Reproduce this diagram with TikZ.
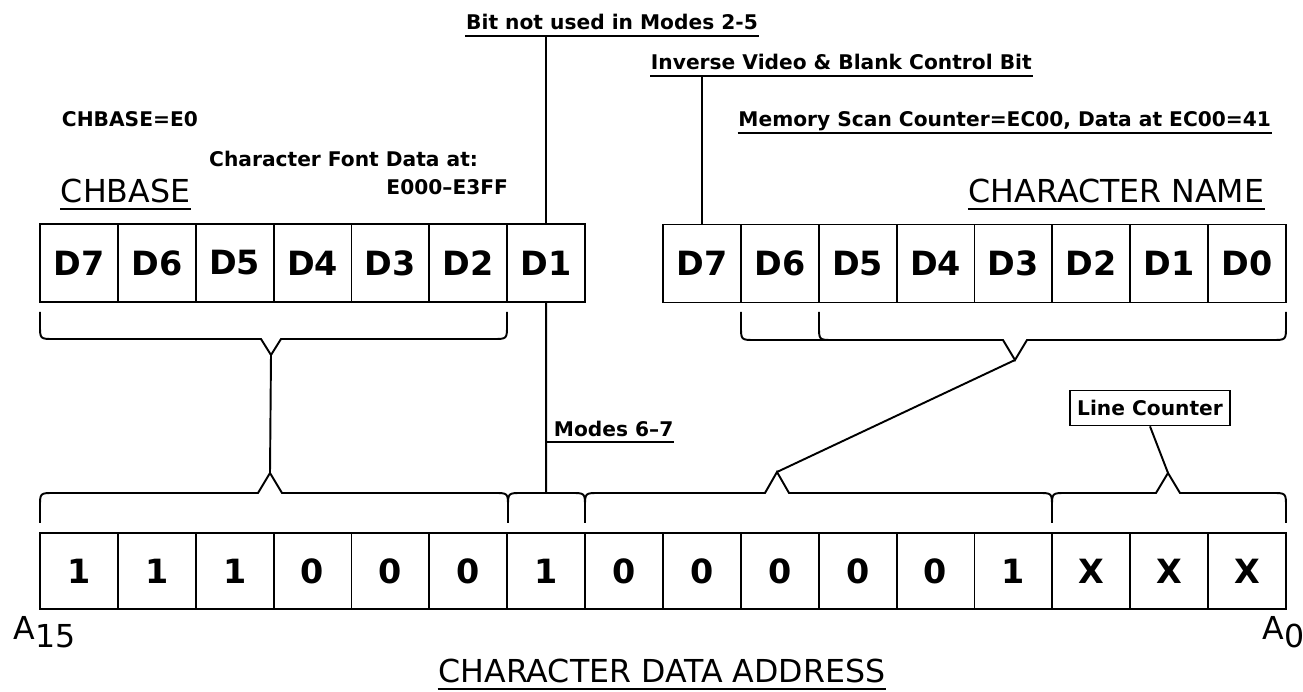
\documentclass[tikz,border=0pt]{standalone}
\usepackage{fontspec}
\setmainfont{DejaVu Sans}
\tikzset{
  cell/.style={draw, line width=1.1pt, minimum width=1.5575cm, minimum height=1.56cm,
    inner sep=0pt, font=\bfseries\fontsize{19}{19}\selectfont},
  note/.style={inner sep=0pt, font=\bfseries\fontsize{11.5}{12}\selectfont},
  heading/.style={inner sep=0pt, font=\fontsize{18}{18}\selectfont},
}
\begin{document}
\begin{tikzpicture}[x=0.02cm, y=-0.02cm, line width=1.1pt]
	\useasboundingbox (0,0) rectangle (1303,692);
	% CHBASE Register
	\foreach \lbl [count=\i] in {D7,D6,D5,D4,D3,D2,D1}
		\node[cell] (cb\i) at ({40+(\i-0.5)*77.875},263) {\lbl};
	% Character Name Register
	\foreach \lbl [count=\i] in {D7,D6,D5,D4,D3,D2,D1,D0}
		\node[cell] (cn\i) at ({40+(\i+7.5)*77.875},263.5) {\lbl};
	% Character Data Address
	\foreach \lbl [count=\i] in {1,1,1,0,0,0,1,0,0,0,0,0,1,X,X,X}
		\node[cell, minimum height=1.52cm] (ad\i) at ({40+(\i-0.5)*77.875},571) {\lbl};
	% Beschriftungen
	\node[note, anchor=base] (bitnote) at (612,30) {Bit not used in Modes 2-5};
	\node[note, anchor=base west] (invnote) at (650,70) {Inverse Video \& Blank Control Bit};
	\node[note, anchor=base west] (basenote) at (61,127) {CHBASE=E0};
	\node[note, anchor=base east] (scannote) at (1272,127) {Memory Scan Counter=EC00, Data at EC00=41};
	\node[note, anchor=base east] (fontnote) at (479,167) {Character Font Data at:};
	\node[note, anchor=base east] (fontrange) at (509,195) {E000--E3FF};
	\node[heading, anchor=base west] (chbase) at (60,203) {CHBASE};
	\node[heading, anchor=base east] (chname) at (1265,203) {CHARACTER NAME};
	\node[note, anchor=base west] (modenote) at (553,437) {Modes 6--7};
	\node[note, draw, line width=0.9pt, inner xsep=4pt, minimum height=20pt] (linecnt) at (1150,408) {Line Counter};
	\node[heading, anchor=base west] (afirst) at (13,640) {A\raisebox{-4.5pt}{15}};
	\node[heading, anchor=base west] (alast) at (1262,640) {A\raisebox{-4.5pt}{0}};
	\node[heading, anchor=base] (cdaddr) at (662,683) {CHARACTER DATA ADDRESS};
	% Unterstreichungen
	\coordinate (bitul) at ([yshift=-3.5pt]bitnote.base west);
	\coordinate (invul) at ([yshift=-3.5pt]invnote.base west);
	\coordinate (modeul) at ([yshift=-3pt]modenote.base east);
	\draw (bitul) -- ([yshift=-3.5pt]bitnote.base east);
	\draw (invul) -- ([yshift=-3.5pt]invnote.base east);
	\draw ([yshift=-3.5pt]scannote.base west) -- ([yshift=-3.5pt]scannote.base east);
	\draw ([yshift=-3.5pt]chbase.base west) -- ([yshift=-3.5pt]chbase.base east);
	\draw ([yshift=-3.5pt]chname.base west) -- ([yshift=-3.5pt]chname.base east);
	\draw ([yshift=-3.5pt]cdaddr.base west) -- ([yshift=-3.5pt]cdaddr.base east);
	\draw (modeul -| cb7) -- (modeul);
	% Klammern oben
	\draw (40,312) -- (40,325) .. controls (40,339) .. (54,339) -- (261,339) -- (271,355)
		-- (281,339) -- (493,339) .. controls (507,339) .. (507,325) -- (507,312);
	\draw (741,312) -- (741,326) .. controls (741,340) .. (755,340) -- (1003,340) -- (1015,360)
		-- (1027,340) -- (1272,340) .. controls (1286,340) .. (1286,326) -- (1286,312);
	\draw (819,312) -- (819,326) .. controls (819,340) .. (833,340);
	\coordinate (upL) at (271,355);
	\coordinate (upR) at (1015,360);
	% Klammern unten
	\draw (40,523) -- (40,507) .. controls (40,493) .. (54,493) -- (258,493) -- (270,473)
		-- (282,493) -- (494,493) .. controls (508,493) .. (508,507) -- (508,523);
	\draw (508,523) -- (508,507) .. controls (508,493) .. (522,493) -- (571,493)
		.. controls (585,493) .. (585,507) -- (585,523);
	\draw (585,523) -- (585,507) .. controls (585,493) .. (599,493) -- (765,493) -- (777,472)
		-- (789,493) -- (1038,493) .. controls (1052,493) .. (1052,507) -- (1052,523);
	\draw (1052,523) -- (1052,507) .. controls (1052,493) .. (1066,493) -- (1156,493) -- (1168,473)
		-- (1180,493) -- (1272,493) .. controls (1286,493) .. (1286,507) -- (1286,523);
	\coordinate (dnA) at (270,473);
	\coordinate (dnB) at (546.2,493);
	\coordinate (dnC) at (777,472);
	\coordinate (dnD) at (1168,473);
	% Linien
	\draw (bitul -| cb7) -- (cb7.north);
	\draw (cb7.south) -- (dnB);
	\draw (invul -| cn1) -- (cn1.north);
	\draw (upL) -- (dnA);
	\draw (upR) -- (dnC);
	\draw (linecnt.south) -- (dnD);
\end{tikzpicture}
\end{document}
